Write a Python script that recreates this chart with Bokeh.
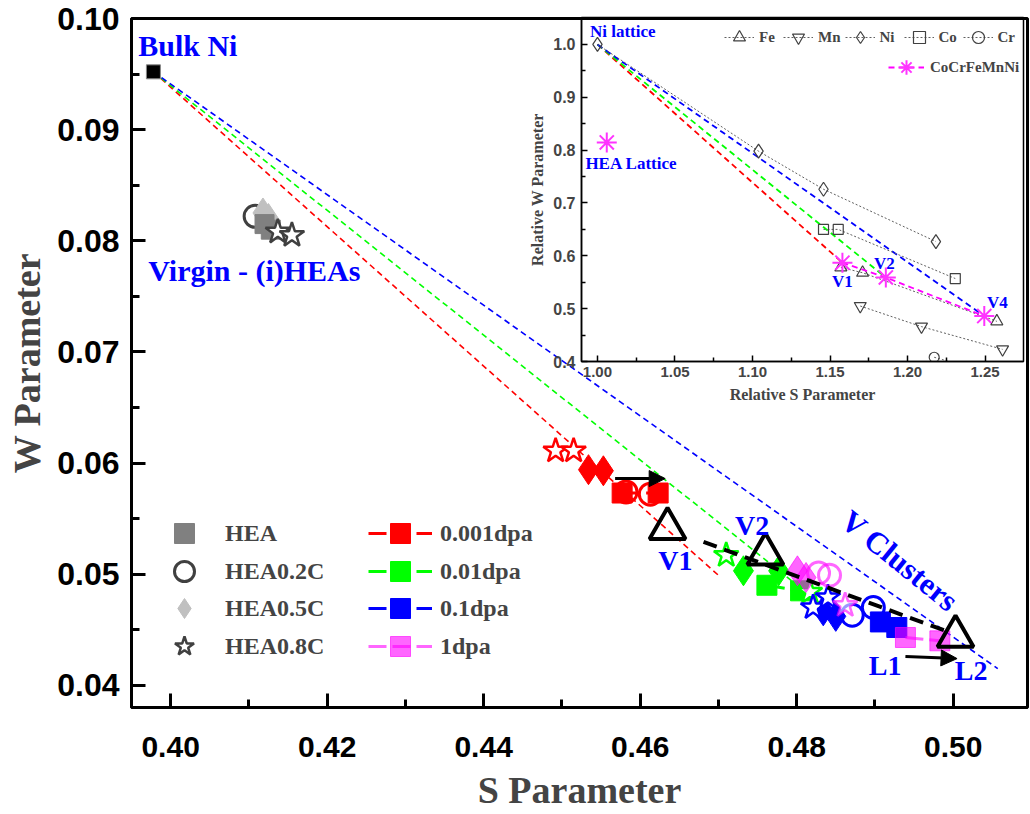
from bokeh.plotting import figure
from bokeh.models import (Legend, LegendItem, Arrow, NormalHead, FixedTicker,
                          PrintfTickFormatter, Range1d)
from bokeh.layouts import column
from bokeh.core.properties import value
from bokeh.embed import file_html
from bokeh.resources import INLINE

SERIF = "Liberation Serif"
SANS = "Liberation Sans"

# ---------------- main chart data ----------------
bulk_ni_s = [0.3978]
bulk_ni_w = [0.0952]

virgin_hea_s = [0.4120, 0.4128]
virgin_hea_w = [0.0815, 0.0810]
virgin_c02_s = [0.4108]
virgin_c02_w = [0.0822]
virgin_c05_s = [0.4118, 0.4125]
virgin_c05_w = [0.0825, 0.0820]
virgin_c08_s = [0.4137, 0.4155]
virgin_c08_w = [0.0808, 0.0805]

material_labels = ["HEA", "HEA0.2C", "HEA0.5C", "HEA0.8C"]
dose_labels = ["0.001dpa", "0.01dpa", "0.1dpa", "1dpa"]

hea_dose = [0, 0, 1, 1, 2, 2, 3, 3]
hea_s = [0.4577, 0.4623, 0.4762, 0.4805, 0.4907, 0.4928, 0.4939, 0.4983]
hea_w = [0.0573, 0.0573, 0.0490, 0.0485, 0.0457, 0.0452, 0.0443, 0.0440]

c02_dose = [0, 0, 2, 2, 3, 3]
c02_s = [0.4582, 0.4613, 0.4871, 0.4898, 0.4828, 0.4842]
c02_w = [0.0574, 0.0572, 0.0463, 0.0470, 0.0501, 0.0499]

c05_dose = [0, 0, 1, 1, 2, 2, 3, 3]
c05_s = [0.4534, 0.4553, 0.4732, 0.4777, 0.4834, 0.4850, 0.4801, 0.4812]
c05_w = [0.0594, 0.0593, 0.0503, 0.0503, 0.0467, 0.0462, 0.0503, 0.0497]

c08_dose = [0, 0, 1, 1, 2, 2, 3]
c08_s = [0.4492, 0.4515, 0.4710, 0.4817, 0.4821, 0.4840, 0.4862]
c08_w = [0.0611, 0.0611, 0.0517, 0.0484, 0.0470, 0.0479, 0.0472]

# dashed guide lines from bulk Ni (red, green, blue)
ni_line_end_s = [0.4700, 0.4849, 0.5057]
ni_line_end_w = [0.0499, 0.0463, 0.0415]

# vacancy-cluster trend and markers
trend_s = [0.4681, 0.4994]
trend_w = [0.0529, 0.0448]
cluster_s = [0.4635, 0.4760, 0.5003]
cluster_w = [0.0541, 0.0518, 0.0444]

arrow_s0 = [0.4568, 0.4939]
arrow_s1 = [0.4632, 0.5005]
arrow_w0 = [0.0586, 0.0426]
arrow_w1 = [0.0586, 0.0424]

ann_big_text = ["Bulk Ni", "Virgin - (i)HEAs"]
ann_big_s = [0.4022, 0.4107]
ann_big_w = [0.0976, 0.0773]
ann_small_text = ["V1", "V2", "L1", "L2"]
ann_small_s = [0.4645, 0.4743, 0.4913, 0.5023]
ann_small_w = [0.0512, 0.0544, 0.0418, 0.0413]
ann_rot_text = ["V Clusters"]
ann_rot_s = [0.4932]
ann_rot_w = [0.0512]

x_ticks = [0.40, 0.42, 0.44, 0.46, 0.48, 0.50]
x_minor = [0.39, 0.41, 0.43, 0.45, 0.47, 0.49, 0.51]
y_ticks = [0.04, 0.05, 0.06, 0.07, 0.08, 0.09, 0.10]
y_minor = [0.035, 0.045, 0.055, 0.065, 0.075, 0.085, 0.095]

# ---------------- inset data ----------------
fe_s = [1.157, 1.171, 1.2576]
fe_w = [0.578, 0.568, 0.476]
mn_s = [1.1695, 1.209, 1.2613]
mn_w = [0.505, 0.466, 0.423]
ni_s = [1.000, 1.1039, 1.1458, 1.2183]
ni_w = [1.000, 0.798, 0.726, 0.627]
co_s = [1.1458, 1.1553, 1.2308]
co_w = [0.650, 0.650, 0.557]
cr_s = [1.2172, 1.2450]
cr_w = [0.408, 0.385]
hea_rel_s = [1.006, 1.158, 1.186, 1.2495]
hea_rel_w = [0.8145, 0.587, 0.559, 0.486]
ni_lattice_s = [1.0]
ni_lattice_w = [1.0]

inset_ann_text = ["Ni lattice", "HEA Lattice", "V1", "V2", "V4"]
inset_ann_s = [1.0163, 1.0219, 1.158, 1.185, 1.258]
inset_ann_w = [1.024, 0.774, 0.551, 0.585, 0.511]

ix_ticks = [1.00, 1.05, 1.10, 1.15, 1.20, 1.25]
ix_minor = [1.025, 1.075, 1.125, 1.175, 1.225, 1.275]
iy_ticks = [0.4, 0.5, 0.6, 0.7, 0.8, 0.9, 1.0]
iy_minor = [0.45, 0.55, 0.65, 0.75, 0.85, 0.95, 1.05]

# ---------------- styles ----------------
dose_colors = ["#ff0000", "#00ff00", "#0000ff", "#ff00ff"]
dose_alpha = [1.0, 1.0, 1.0, 0.6]
legend_row_bottoms = [149, 111, 74, 36]   # px above the frame bottom


def sub(vals, doses, d):
    return [v for v, k in zip(vals, doses) if k == d]


p = figure(width=1029, height=813, output_backend="svg", toolbar_location=None,
           x_range=Range1d(0.395, 0.5095), y_range=Range1d(0.038, 0.100),
           min_border_left=131, min_border_right=2, min_border_top=18,
           min_border_bottom=106, frame_align=False)
p.xgrid.visible = False
p.ygrid.visible = False
p.outline_line_color = "black"
p.outline_line_width = 3

for ax, ticks, minor, lab in ((p.xaxis[0], x_ticks, x_minor, "S Parameter"),
                              (p.yaxis[0], y_ticks, y_minor, "W Parameter")):
    ax.ticker = FixedTicker(ticks=ticks, minor_ticks=minor)
    ax.formatter = PrintfTickFormatter(format="%.2f")
    ax.axis_label = lab
    ax.axis_label_text_font = SERIF
    ax.axis_label_text_font_style = "bold"
    ax.axis_label_text_font_size = "38px"
    ax.major_label_text_font = SANS
    ax.major_label_text_font_style = "bold"
    ax.major_label_text_color = "black"
    ax.axis_line_width = 3
    ax.major_tick_line_width = 3
    ax.minor_tick_line_width = 3
    ax.major_tick_in = 14
    ax.major_tick_out = 0
    ax.minor_tick_in = 8
    ax.minor_tick_out = 0
p.xaxis[0].major_label_text_font_size = "30px"
p.yaxis[0].major_label_text_font_size = "32px"
p.xaxis[0].major_label_standoff = 29
p.xaxis[0].axis_label_standoff = 9
p.yaxis[0].major_label_standoff = 12
p.yaxis[0].axis_label_standoff = 6

# guide lines from bulk Ni
for i in range(3):
    p.line([bulk_ni_s[0], ni_line_end_s[i]], [bulk_ni_w[0], ni_line_end_w[i]],
           line_color=dose_colors[i], line_width=1.6, line_dash="6 4")

p.scatter(bulk_ni_s, bulk_ni_w, marker="square", size=14, fill_color="black",
          line_color="#888888", line_width=1)

# virgin alloys
v_c02 = p.scatter(virgin_c02_s, virgin_c02_w, marker="circle", size=22, fill_color=None,
                  line_color="#404040", line_width=3)
v_c05 = p.scatter(virgin_c05_s, virgin_c05_w, marker="diamond", size=30,
                  fill_color="#c0c0c0", line_color="#c0c0c0")
v_hea = p.scatter(virgin_hea_s, virgin_hea_w, marker="square", size=19,
                  fill_color="#808080", line_color="#808080")
v_c08 = p.scatter(virgin_c08_s, virgin_c08_w, marker="star", size=26, fill_color="white",
                  line_color="#404040", line_width=2.5)
material_renderers = [v_hea, v_c02, v_c05, v_c08]

dose_renderers = []
for d in range(4):
    c = dose_colors[d]
    a = dose_alpha[d]
    hs, hw = sub(hea_s, hea_dose, d), sub(hea_w, hea_dose, d)
    lr = p.line(hs, hw, line_color=c, line_alpha=a, line_width=3, line_dash="18 6")
    sr = p.scatter(hs, hw, marker="square", size=20, fill_color=c, line_color=c,
                   fill_alpha=a, line_alpha=a)
    p.scatter(sub(c02_s, c02_dose, d), sub(c02_w, c02_dose, d), marker="circle", size=22,
              fill_color=None, line_color=c, line_alpha=a, line_width=3)
    p.scatter(sub(c05_s, c05_dose, d), sub(c05_w, c05_dose, d), marker="diamond", size=30,
              fill_color=c, line_color=c, fill_alpha=a, line_alpha=a)
    p.scatter(sub(c08_s, c08_dose, d), sub(c08_w, c08_dose, d), marker="star", size=26,
              fill_color="white", fill_alpha=a, line_color=c, line_alpha=a, line_width=2.5)
    dose_renderers.append([lr, sr])

# trend line, cluster markers, arrows
p.line(trend_s, trend_w, line_color="black", line_width=4, line_dash="14 8")
p.scatter(cluster_s, cluster_w, marker="triangle", size=36, fill_color=None,
          line_color="black", line_width=4)
for i in range(len(arrow_s0)):
    p.add_layout(Arrow(end=NormalHead(size=16, fill_color="black", line_color="black"),
                       x_start=arrow_s0[i], y_start=arrow_w0[i],
                       x_end=arrow_s1[i], y_end=arrow_w1[i],
                       line_color="black", line_width=3))

p.text(ann_big_s, ann_big_w, text=ann_big_text, text_font=value(SERIF),
       text_font_style="bold", text_font_size="30px", text_color="#0000ff",
       text_align="center", text_baseline="middle")
p.text(ann_small_s, ann_small_w, text=ann_small_text, text_font=value(SERIF),
       text_font_style="bold", text_font_size="28px", text_color="#0000ff",
       text_align="center", text_baseline="middle")
p.text(ann_rot_s, ann_rot_w, text=ann_rot_text, text_font=value(SERIF),
       text_font_style="bold", text_font_size="31px", text_color="#0000ff",
       text_align="center", text_baseline="middle", angle=-0.68)


def style_legend(lg, font_size):
    lg.label_text_font = SERIF
    lg.label_text_font_style = "bold"
    lg.label_text_font_size = font_size
    lg.background_fill_alpha = 0
    lg.border_line_alpha = 0
    lg.padding = 0
    lg.margin = 0


# one legend per row so that the rows can sit closer than the glyph box
for i in range(4):
    lg = Legend(items=[LegendItem(label=material_labels[i], renderers=[material_renderers[i]])],
                location=(28, legend_row_bottoms[i]), glyph_width=50, glyph_height=50,
                label_standoff=16, label_height=50)
    style_legend(lg, "24px")
    p.add_layout(lg)
    lg2 = Legend(items=[LegendItem(label=dose_labels[i], renderers=dose_renderers[i])],
                 location=(237, legend_row_bottoms[i]), glyph_width=64, glyph_height=50,
                 label_standoff=8, label_height=50)
    style_legend(lg2, "24px")
    p.add_layout(lg2)

# ---------------- inset ----------------
q = figure(width=500, height=397, output_backend="svg", toolbar_location=None,
           x_range=Range1d(0.9897, 1.2748), y_range=Range1d(0.4, 1.051),
           min_border_left=56, min_border_right=2, min_border_top=2,
           min_border_bottom=51, margin=(-798, 0, 401, 525), frame_align=False)
q.background_fill_alpha = 0
q.border_fill_alpha = 0
q.xgrid.visible = False
q.ygrid.visible = False
q.outline_line_color = "black"
q.outline_line_width = 1.5

for ax, ticks, minor, lab, fmt, fs in ((q.xaxis[0], ix_ticks, ix_minor, "Relative S Parameter", "%.2f", "15px"),
                                       (q.yaxis[0], iy_ticks, iy_minor, "Relative W Parameter", "%.1f", "16px")):
    ax.ticker = FixedTicker(ticks=ticks, minor_ticks=minor)
    ax.formatter = PrintfTickFormatter(format=fmt)
    ax.axis_label = lab
    ax.axis_label_text_font = SERIF
    ax.axis_label_text_font_style = "bold"
    ax.axis_label_text_font_size = "16px"
    ax.major_label_text_font = SANS
    ax.major_label_text_font_style = "bold"
    ax.major_label_text_font_size = fs
    ax.axis_line_width = 1.5
    ax.major_tick_line_width = 1.5
    ax.minor_tick_line_width = 1.5
    ax.major_tick_in = 6
    ax.major_tick_out = 0
    ax.minor_tick_in = 4
    ax.minor_tick_out = 0
q.xaxis[0].major_label_standoff = 5
q.xaxis[0].axis_label_standoff = 6
q.yaxis[0].major_label_standoff = 6
q.yaxis[0].axis_label_standoff = 4

# guide lines from Ni lattice to the HEA vacancy points
for i in range(3):
    q.line([ni_lattice_s[0], hea_rel_s[i + 1]], [ni_lattice_w[0], hea_rel_w[i + 1]],
           line_color=dose_colors[i], line_width=1.8, line_dash="6 4")

elem_items = []
for lab, xs, ys, mk, size in (("Fe", fe_s, fe_w, "triangle", 12),
                              ("Mn", mn_s, mn_w, "inverted_triangle", 12),
                              ("Ni", ni_s, ni_w, "diamond", 14),
                              ("Co", co_s, co_w, "square", 10),
                              ("Cr", cr_s, cr_w, "circle", 10)):
    lr = q.line(xs, ys, line_color="#606060", line_width=1, line_dash="2 2")
    sr = q.scatter(xs, ys, marker=mk, size=size, fill_color="white", fill_alpha=0.0,
                   line_color="#404040", line_width=1.2)
    elem_items.append(LegendItem(label=lab, renderers=[lr, sr]))

hl = q.line(hea_rel_s[1:], hea_rel_w[1:], line_color="#ff00ff", line_width=1.8, line_dash="6 4")
hs = q.scatter(hea_rel_s, hea_rel_w, marker="asterisk", size=20, line_color="#ff33ff",
               line_width=2)

q.text(inset_ann_s, inset_ann_w, text=inset_ann_text, text_font=value(SERIF),
       text_font_style="bold", text_font_size="17px", text_color="#0000ff",
       text_align="center", text_baseline="middle")

leg3 = Legend(items=elem_items, location=(143, 309), orientation="horizontal",
              glyph_width=30, glyph_height=30, spacing=4, label_standoff=5)
style_legend(leg3, "15px")
leg4 = Legend(items=[LegendItem(label="CoCrFeMnNi", renderers=[hl, hs])],
              location=(307, 269), glyph_width=36, glyph_height=50, label_standoff=6)
style_legend(leg4, "15px")
q.add_layout(leg3)
q.add_layout(leg4)

layout = column(p, q)
open("out.html", "w").write(file_html(layout, INLINE))
